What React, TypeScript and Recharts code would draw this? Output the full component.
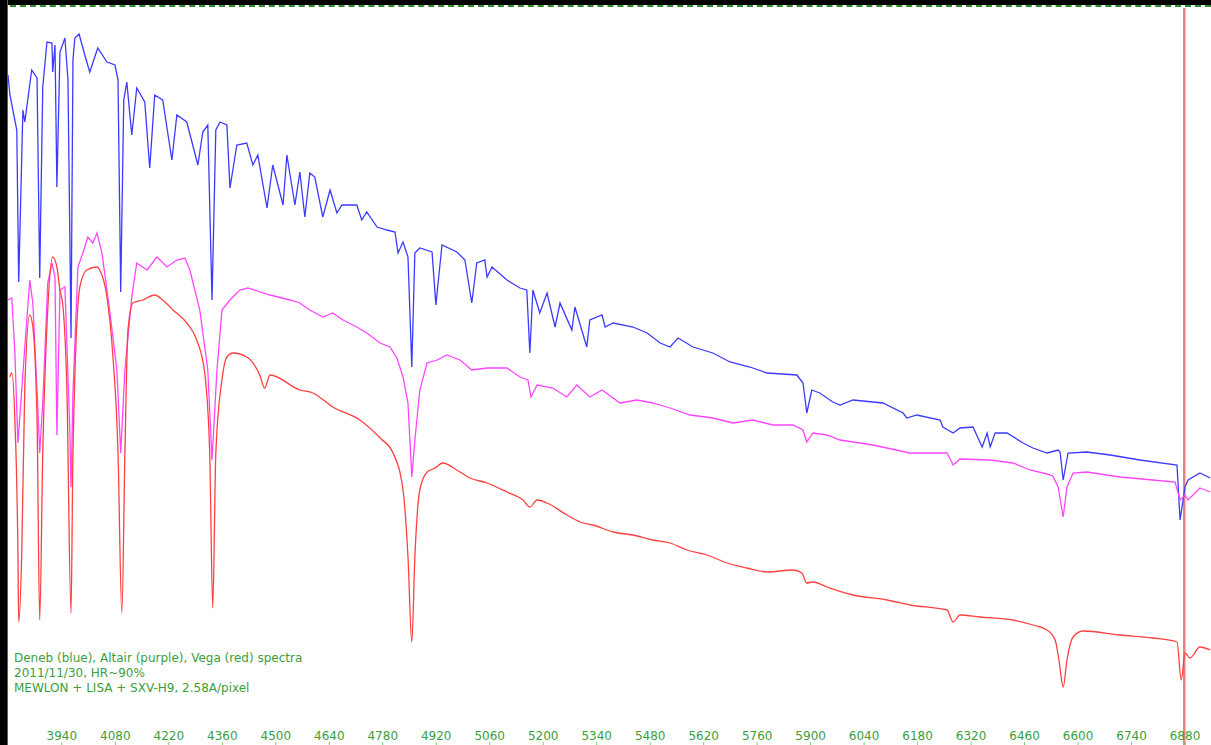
import React from 'react';
import { LineChart, Line, XAxis, YAxis, ReferenceLine } from 'recharts';

// wavelength (Angstrom) and relative flux (arbitrary units)
const denebWl = [3799,3804,3822,3827,3838,3843,3861,3875,3882,3890,
  3901,3914,3916,3922,3927,3935,3948,3956,3964,3969,
  3974,3985,4000,4013,4034,4058,4079,4087,4094,4102,
  4110,4123,4136,4157,4170,4183,4204,4228,4241,4267,
  4296,4309,4322,4333,4343,4354,4372,4380,4398,4424,
  4440,4453,4477,4492,4519,4529,4550,4563,4576,4589,
  4602,4623,4642,4660,4673,4712,4725,4738,4765,4791,
  4812,4820,4833,4846,4856,4864,4877,4909,4919,4935,
  4974,4995,5013,5026,5047,5053,5066,5105,5139,5157,
  5165,5173,5191,5210,5231,5244,5275,5283,5314,5322,
  5354,5362,5383,5435,5472,5506,5532,5553,5592,5644,
  5689,5741,5786,5864,5880,5890,5903,5924,5958,5977,
  6011,6089,6142,6152,6178,6239,6246,6273,6291,6325,
  6349,6362,6370,6383,6414,6456,6482,6519,6548,6553,
  6561,6574,6623,6684,6762,6859,6867,6880,6888,6919,
  6946];
const denebFlux = [670,650,615,463,635,623,675,667,467,658,
  703,702,673,700,558,693,707,665,407,685,
  707,711,690,673,697,683,680,665,453,645,
  663,610,657,643,577,650,645,585,630,623,
  580,613,620,445,615,623,620,557,600,602,
  580,590,537,580,540,590,540,573,528,572,
  568,528,555,532,540,540,525,533,518,515,
  513,492,503,488,378,492,497,493,440,500,
  493,485,442,482,485,468,478,465,457,455,
  392,455,432,452,418,442,415,438,398,425,
  430,418,422,418,412,402,398,407,398,392,
  383,378,372,370,362,332,355,352,343,340,
  345,342,332,327,330,325,318,312,317,318,
  298,312,298,312,312,302,297,292,295,293,
  265,292,293,290,285,280,225,258,265,272,
  267];

const altairWl = [3799,3809,3817,3825,3843,3856,3864,3877,3882,3890,
  3903,3914,3922,3927,3935,3948,3961,3964,3969,3982,
  3995,4008,4021,4032,4045,4066,4084,4094,4105,4123,
  4136,4163,4189,4215,4241,4262,4275,4301,4322,4333,
  4346,4359,4380,4406,4427,4485,4537,4563,4589,4623,
  4649,4676,4712,4738,4773,4799,4817,4833,4846,4851,
  4856,4864,4877,4896,4922,4948,4982,5013,5053,5105,
  5139,5160,5168,5184,5225,5262,5288,5322,5354,5401,
  5445,5487,5532,5584,5644,5697,5749,5801,5854,5880,
  5890,5906,5943,5977,6011,6063,6160,6257,6273,6291,
  6370,6430,6474,6519,6534,6548,6561,6571,6587,6623,
  6710,6796,6854,6867,6880,6888,6919,6946];
const altairFlux = [445,447,392,302,398,465,442,338,292,342,
  462,482,468,310,455,458,312,258,352,478,
  492,508,502,512,492,432,375,292,375,448,
  482,475,488,478,485,487,475,435,375,285,
  375,435,445,455,457,450,445,442,435,428,
  432,425,418,412,402,398,387,368,342,305,
  268,305,355,382,385,390,385,375,377,377,
  368,365,348,360,357,348,360,348,355,342,
  345,342,337,330,327,322,325,320,320,315,
  303,312,310,305,303,300,292,292,280,286,
  285,282,275,271,269,258,228,258,272,273,
  268,265,263,245,250,245,257,253];

const vegaWl = [3804,3809,3817,3825,3827,3835,3843,3856,3864,3875,
  3882,3890,3903,3916,3927,3935,3943,3953,3964,3969,
  3987,4005,4032,4039,4058,4073,4087,4097,4105,4113,
  4126,4152,4183,4204,4231,4267,4293,4314,4327,4335,
  4343,4359,4372,4388,4424,4458,4471,4485,4563,4597,
  4649,4720,4773,4807,4833,4846,4856,4864,4877,4896,
  4917,4937,4974,5008,5053,5105,5147,5165,5184,5210,
  5262,5304,5330,5383,5435,5487,5532,5576,5629,5681,
  5733,5786,5854,5877,5890,5906,5943,6011,6100,6160,
  6257,6273,6291,6343,6430,6482,6519,6540,6550,6561,
  6571,6587,6613,6710,6796,6859,6870,6880,6893,6919,
  6946];
const vegaFlux = [368,372,325,192,123,192,358,430,418,325,
  125,292,435,488,478,455,438,358,132,292,
  458,475,478,475,448,392,292,132,292,415,
  442,445,450,445,435,422,405,372,292,137,
  292,365,388,392,388,370,357,370,355,352,
  338,325,307,292,255,188,103,188,255,273,
  277,282,275,267,262,253,245,238,245,242,
  230,222,220,213,210,205,202,195,190,182,
  177,173,175,172,162,163,158,150,145,140,
  135,123,130,128,125,120,115,105,85,58,
  85,108,114,110,107,103,65,92,87,98,
  95];

const wlTicks = [3940,4080,4220,4360,4500,4640,4780,4920,5060,5200,5340,
  5480,5620,5760,5900,6040,6180,6320,6460,6600,6740,6880];

const captionLines = [
  'Deneb (blue), Altair (purple), Vega (red) spectra',
  '2011/11/30, HR~90%',
  'MEWLON + LISA + SXV-H9, 2.58A/pixel',
];

const toSeries = (wl: number[], flux: number[]) =>
  wl.map((w, i) => ({ wl: w, flux: flux[i] }));

const deneb = toSeries(denebWl, denebFlux);
const altair = toSeries(altairWl, altairFlux);
const vega = toSeries(vegaWl, vegaFlux);

const GREEN = '#3c9e3c';
const FONT = 'DejaVu Sans, Verdana, sans-serif';

export default function App() {
  return (
    <div style={{ position: 'absolute', left: 0, top: 0, width: 1211, height: 745, background: '#fff', overflow: 'hidden' }}>
      <div style={{ position: 'absolute', left: 0, top: 0, width: 1211, height: 5, background: '#000' }} />
      <div style={{ position: 'absolute', left: 0, top: 5, width: 1211, height: 0, borderTop: '2px dashed #2f8f2f' }} />
      <div style={{ position: 'absolute', left: 0, top: 0, width: 7, height: 745, background: '#000' }} />
      <div style={{ position: 'absolute', left: 7, top: 0, width: 1, height: 745, background: '#2f7f2f' }} />
      <div style={{ position: 'absolute', left: 8, top: 8 }}>
        <LineChart width={1203} height={737} margin={{ top: 0, right: 0, bottom: 0, left: 0 }}>
          <XAxis
            dataKey="wl"
            type="number"
            domain={[3799, 6948]}
            ticks={wlTicks}
            mirror
            axisLine={false}
            tickSize={3}
            tickLine={{ stroke: '#7c7' }}
            tick={{ fill: GREEN, fontSize: 12, fontFamily: FONT }}
          />
          <YAxis hide type="number" domain={[0, 737]} />
          <ReferenceLine x={6878} stroke="#e88080" strokeWidth={2.5} />
          <Line data={deneb} dataKey="flux" type="linear" stroke="#3b3bff" strokeWidth={1.3} dot={false} isAnimationActive={false} />
          <Line data={altair} dataKey="flux" type="linear" stroke="#ff45ff" strokeWidth={1.3} dot={false} isAnimationActive={false} />
          <Line data={vega} dataKey="flux" type="monotone" stroke="#ff4040" strokeWidth={1.3} dot={false} isAnimationActive={false} />
        </LineChart>
      </div>
      <div style={{ position: 'absolute', left: 14, top: 651, color: GREEN, fontSize: 12, lineHeight: '15px', fontFamily: FONT }}>
        {captionLines.map((t) => (
          <div key={t}>{t}</div>
        ))}
      </div>
    </div>
  );
}
